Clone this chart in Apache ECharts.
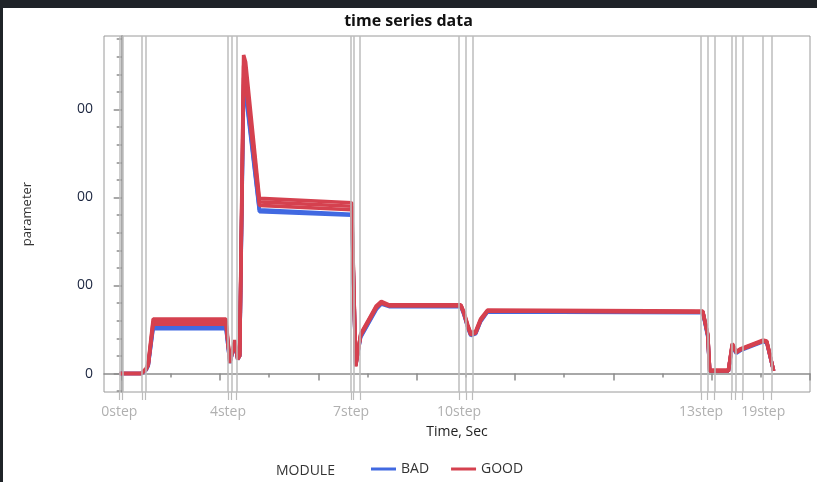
<!DOCTYPE html>
<html>
<head>
<meta charset="utf-8">
<script src="https://cdn.jsdelivr.net/npm/echarts@6/dist/echarts.min.js"></script>
<style>
html,body{margin:0;padding:0;background:#fff;overflow:hidden;}
#c{width:817px;height:482px;}
</style>
</head>
<body>
<div id="c"></div>
<script>
// ---- data ----
var time = [-0.2, 2.0, 2.5, 2.7, 3.2, 10.6, 11.0, 11.5, 11.8, 12.0, 12.4, 12.6, 14.0, 23.4, 23.8, 24.3, 25.2, 25.9, 26.4, 27.2, 34.5, 34.8, 35.2, 35.5, 36.0, 36.5, 37.2, 59.1, 59.6, 59.8, 61.7, 62.1, 62.5, 62.9, 65.2, 65.6, 66.3];
var bad1  = [0,0,5,9,53, 53,12,34,16,20,328,322,186, 181,9,42,60,74,80,77, 77,68,53,44,46,60,71, 70,43,3, 3,32,24,27,37,36,3];
var bad2  = [0,0,4,9,51, 51,13,33,17,20,322,318,184, 180,10,41,59,73,79,76, 76,67,52,43,45,59,70, 69,42,3, 3,31,23,26,36,35,3];
var good1 = [0,0,6,12,62, 62,14,38,18,22,362,354,199, 194,8,45,63,77,82,78, 78,70,55,46,48,62,72, 71,45,4, 4,34,25,28,38,37,3];
var good2 = [0,0,5,10,59, 59,12,36,16,20,350,342,195, 190,9,44,62,76,81,77, 77,69,54,45,47,61,71, 70,44,3, 3,33,24,27,37,36,3];
var good3 = [0,0,5,10,56, 56,15,35,17,20,336,330,191, 186,10,43,61,75,80,77, 77,68,53,44,46,60,71, 70,44,3, 3,33,24,27,37,36,3];
var stepLines = [-0.24, 0.10, 2.09, 2.43, 10.81, 11.16, 11.66, 23.33, 23.56, 24.24, 34.31, 34.99, 35.66, 58.92, 59.56, 60.27, 62.03, 62.43, 63.11, 65.24, 66.08];
var stepLabelPos = [-0.24, 10.81, 23.33, 34.31, 58.92, 65.24];
var stepLabels = ['0step', '4step', '7step', '10step', '13step', '19step'];
var xMajorTicks = [0, 10, 20, 30, 40, 50, 60, 70];
var xMinorTicks = [5, 15, 25, 35, 45, 55, 65];
var yMajorTicks = [0, 100, 200, 300];
var yTickLabels = ['0', '00', '00', '00'];
var yMinorTicks = [-20, 20, 40, 60, 80, 120, 140, 160, 180, 220, 240, 260, 280, 320, 340, 360, 380];

function pts(v){ return time.map(function(t,i){ return [t, v[i]]; }); }

var BLUE = '#4169e1', RED = '#d5414f';
var FONT = '"Open Sans", "Noto Sans", sans-serif';

var chart = echarts.init(document.getElementById('c'));
var xMin = -1.8, xMax = 70, yMin = -21, yMax = 383.5;

function lineSeries(name, vals, color){
  return {
    name: name, type: 'line', data: pts(vals), symbol: 'none', z: 3,
    lineStyle: {color: color, width: 3.6}, itemStyle: {color: color},
    animation: false
  };
}

chart.setOption({
  animation: false,
  title: {
    text: 'time series data', left: 'center', top: 8,
    textStyle: {fontFamily: FONT, fontSize: 16, fontWeight: 'bold', color: '#111'}
  },
  grid: {left: 104, right: 7, top: 36, bottom: 90, show: true, borderColor: '#9a9a9a', borderWidth: 1},
  legend: {
    data: ['BAD', 'GOOD'], left: 366, top: 457, icon: 'rect', itemWidth: 25, itemHeight: 3,
    itemGap: 22, textStyle: {fontFamily: FONT, fontSize: 14, color: '#333'}
  },
  graphic: [
    {type: 'rect', shape: {x: 0, y: 0, width: 817, height: 8}, style: {fill: '#1f2328'}, z: 100},
    {type: 'rect', shape: {x: 0, y: 0, width: 3, height: 482}, style: {fill: '#1f2328'}, z: 100},
    {type: 'text', left: 276, top: 464, style: {text: 'MODULE', font: '14px ' + FONT, fill: '#333'}}
  ],
  xAxis: [
    {
      type: 'value', min: xMin, max: xMax, position: 'bottom',
      name: 'Time, Sec', nameLocation: 'middle', nameGap: 33,
      nameTextStyle: {fontFamily: FONT, fontSize: 14, color: '#222'},
      axisLine: {show: true, lineStyle: {color: '#8c8c8c', width: 1.5}},
      axisTick: {show: true, customValues: xMajorTicks, length: 7, lineStyle: {color: '#8c8c8c', width: 1.5}},
      axisLabel: {
        show: true, customValues: stepLabelPos, margin: 13,
        fontFamily: FONT, fontSize: 14, color: '#b0b0b0',
        formatter: function(v){
          for (var i = 0; i < stepLabelPos.length; i++) if (Math.abs(stepLabelPos[i] - v) < 1e-6) return stepLabels[i];
          return '';
        }
      },
      splitLine: {show: false}
    },
    {
      type: 'value', min: xMin, max: xMax, position: 'bottom',
      axisLine: {show: false}, axisLabel: {show: false}, splitLine: {show: false},
      axisTick: {show: true, customValues: xMinorTicks, length: 4, lineStyle: {color: '#8c8c8c', width: 1.5}}
    },
    {
      type: 'value', min: xMin, max: xMax, position: 'bottom',
      axisLine: {show: false}, axisLabel: {show: false}, splitLine: {show: false},
      axisTick: {show: true, customValues: stepLines, length: 8, lineStyle: {color: '#bcbcbc', width: 1.2}}
    }
  ],
  yAxis: [
    {
      type: 'value', min: yMin, max: yMax, position: 'left',
      name: 'parameter', nameLocation: 'middle', nameGap: 70, nameRotate: 90,
      nameTextStyle: {fontFamily: FONT, fontSize: 13, color: '#333'},
      axisLine: {show: true, lineStyle: {color: '#8c8c8c', width: 1.5}},
      axisTick: {show: true, customValues: yMajorTicks, length: 8, lineStyle: {color: '#8c8c8c', width: 1.5}},
      axisLabel: {
        show: true, customValues: yMajorTicks, margin: 11,
        fontFamily: FONT, fontSize: 14, color: '#1c2640',
        formatter: function(v){ var i = yMajorTicks.indexOf(v); return i >= 0 ? yTickLabels[i] : ''; }
      },
      splitLine: {show: false}
    },
    {
      type: 'value', min: yMin, max: yMax, position: 'left',
      axisLine: {show: false}, axisLabel: {show: false}, splitLine: {show: false},
      axisTick: {show: true, customValues: yMinorTicks, length: 5, lineStyle: {color: '#8c8c8c', width: 1.5}}
    }
  ],
  series: [
    {
      name: 'refs', type: 'line', data: [[xMin, yMin]], symbol: 'none', z: 1,
      lineStyle: {width: 0, opacity: 0},
      markLine: {
        silent: true, symbol: ['none', 'none'], label: {show: false},
        lineStyle: {color: '#bcbcbc', width: 1.5, type: 'solid'},
        data: stepLines.map(function(v){ return {xAxis: v}; })
      }
    },
    lineSeries('BAD', bad1, BLUE),
    lineSeries('BAD', bad2, BLUE),
    lineSeries('GOOD', good3, RED),
    lineSeries('GOOD', good2, RED),
    lineSeries('GOOD', good1, RED)
  ]
});
</script>
</body>
</html>
